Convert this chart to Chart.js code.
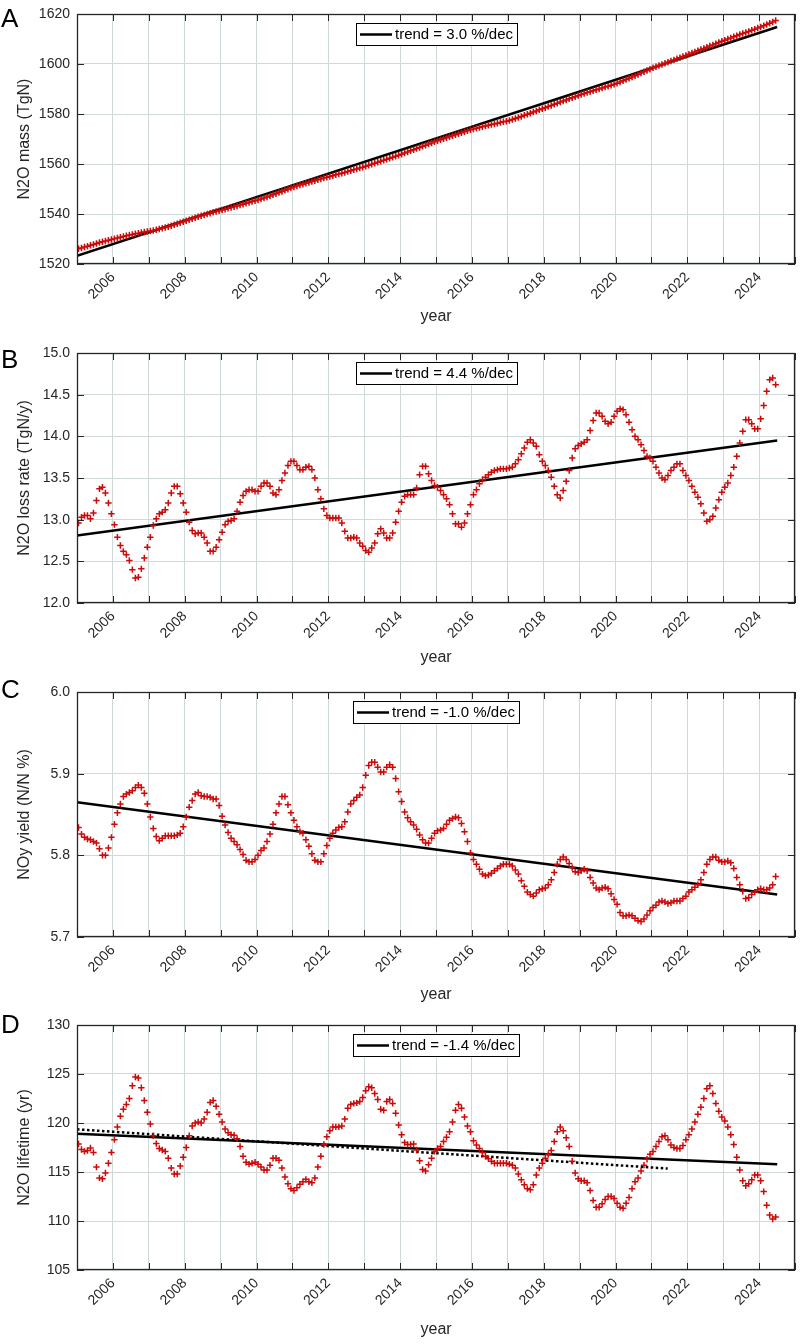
<!DOCTYPE html>
<html>
<head>
<meta charset="utf-8">
<script src="https://cdn.jsdelivr.net/npm/chart.js@4.4.1/dist/chart.umd.min.js"></script>
<style>
  html, body { margin: 0; padding: 0; background: #fff; }
  body { width: 812px; height: 1344px; position: relative; overflow: hidden; }
  .panel { position: absolute; left: 0; width: 812px; }
</style>
</head>
<body>
<div class="panel" style="top:0px;height:326px"><canvas id="cA"></canvas></div>
<div class="panel" style="top:339px;height:328px"><canvas id="cB"></canvas></div>
<div class="panel" style="top:678px;height:326px"><canvas id="cC"></canvas></div>
<div class="panel" style="top:1011px;height:328px"><canvas id="cD"></canvas></div>
<script>
// monthly values, Jan 2005 .. Jun 2024 (one row per year)
const n2oMass = [
  1526.1, 1526.4, 1526.8, 1527.1, 1527.5, 1527.8, 1528.2, 1528.6, 1528.9, 1529.2, 1529.5, 1529.8,
  1530.1, 1530.4, 1530.7, 1531.0, 1531.3, 1531.6, 1531.8, 1532.1, 1532.3, 1532.6, 1532.8, 1533.0,
  1533.2, 1533.4, 1533.7, 1534.0, 1534.3, 1534.6, 1534.9, 1535.3, 1535.7, 1536.1, 1536.5, 1536.9,
  1537.3, 1537.7, 1538.1, 1538.5, 1538.9, 1539.3, 1539.6, 1540.0, 1540.3, 1540.7, 1541.0, 1541.3,
  1541.6, 1541.9, 1542.3, 1542.6, 1542.9, 1543.2, 1543.6, 1543.9, 1544.3, 1544.6, 1545.0, 1545.3,
  1545.6, 1546.0, 1546.4, 1546.8, 1547.2, 1547.7, 1548.1, 1548.6, 1549.0, 1549.5, 1549.9, 1550.4,
  1550.8, 1551.2, 1551.6, 1551.9, 1552.3, 1552.6, 1553.0, 1553.3, 1553.7, 1554.0, 1554.4, 1554.7,
  1555.0, 1555.3, 1555.7, 1556.0, 1556.3, 1556.6, 1557.0, 1557.3, 1557.7, 1558.0, 1558.4, 1558.7,
  1559.1, 1559.5, 1559.9, 1560.3, 1560.7, 1561.1, 1561.5, 1561.9, 1562.3, 1562.7, 1563.1, 1563.5,
  1563.9, 1564.4, 1564.8, 1565.3, 1565.7, 1566.2, 1566.6, 1567.1, 1567.5, 1568.0, 1568.4, 1568.9,
  1569.3, 1569.7, 1570.1, 1570.5, 1570.9, 1571.3, 1571.7, 1572.1, 1572.5, 1572.9, 1573.3, 1573.7,
  1574.0, 1574.3, 1574.6, 1574.9, 1575.2, 1575.5, 1575.8, 1576.0, 1576.3, 1576.6, 1576.9, 1577.1,
  1577.4, 1577.8, 1578.2, 1578.6, 1579.0, 1579.5, 1579.9, 1580.3, 1580.8, 1581.2, 1581.7, 1582.1,
  1582.5, 1583.0, 1583.4, 1583.9, 1584.3, 1584.8, 1585.2, 1585.6, 1586.1, 1586.5, 1586.9, 1587.4,
  1587.8, 1588.2, 1588.6, 1588.9, 1589.3, 1589.7, 1590.0, 1590.4, 1590.8, 1591.1, 1591.5, 1591.9,
  1592.3, 1592.8, 1593.3, 1593.8, 1594.3, 1594.8, 1595.3, 1595.8, 1596.4, 1596.9, 1597.4, 1597.9,
  1598.5, 1598.9, 1599.4, 1599.8, 1600.3, 1600.7, 1601.2, 1601.6, 1602.1, 1602.5, 1603.0, 1603.4,
  1603.9, 1604.4, 1604.8, 1605.3, 1605.8, 1606.2, 1606.7, 1607.2, 1607.6, 1608.1, 1608.6, 1609.1,
  1609.5, 1610.0, 1610.4, 1610.9, 1611.3, 1611.8, 1612.2, 1612.6, 1613.0, 1613.5, 1613.9, 1614.4,
  1614.8, 1615.3, 1615.8, 1616.3, 1616.8, 1617.4
];
const lossRate = [
  12.96, 13.03, 13.05, 13.05, 13.01, 13.08, 13.23, 13.37, 13.39, 13.32, 13.20, 13.07,
  12.94, 12.79, 12.69, 12.62, 12.58, 12.51, 12.40, 12.30, 12.31, 12.41, 12.54, 12.67,
  12.79, 12.93, 13.01, 13.07, 13.09, 13.12, 13.20, 13.32, 13.40, 13.40, 13.31, 13.20,
  13.09, 12.97, 12.87, 12.83, 12.84, 12.84, 12.79, 12.72, 12.62, 12.62, 12.67, 12.76,
  12.85, 12.94, 12.98, 12.99, 13.01, 13.10, 13.21, 13.29, 13.34, 13.36, 13.36, 13.34,
  13.34, 13.40, 13.44, 13.44, 13.40, 13.32, 13.30, 13.36, 13.47, 13.56, 13.65, 13.70,
  13.70, 13.65, 13.60, 13.60, 13.63, 13.64, 13.60, 13.50, 13.36, 13.25, 13.13, 13.05,
  13.02, 13.02, 13.02, 13.02, 12.96, 12.86, 12.78, 12.78, 12.79, 12.78, 12.72, 12.68,
  12.63, 12.61, 12.66, 12.72, 12.83, 12.89, 12.84, 12.78, 12.78, 12.84, 12.97, 13.10,
  13.21, 13.28, 13.30, 13.30, 13.30, 13.38, 13.54, 13.64, 13.64, 13.55, 13.47, 13.41,
  13.39, 13.35, 13.30, 13.25, 13.18, 13.07, 12.95, 12.95, 12.91, 12.96, 13.07, 13.18,
  13.30, 13.36, 13.43, 13.48, 13.51, 13.54, 13.57, 13.59, 13.60, 13.61, 13.61, 13.61,
  13.62, 13.63, 13.67, 13.72, 13.79, 13.86, 13.93, 13.96, 13.92, 13.88, 13.78, 13.70,
  13.65, 13.59, 13.51, 13.40, 13.30, 13.26, 13.35, 13.46, 13.59, 13.74, 13.85, 13.89,
  13.91, 13.93, 13.96, 14.07, 14.19, 14.28, 14.28, 14.24, 14.18, 14.15, 14.17, 14.24,
  14.30, 14.33, 14.32, 14.26, 14.17, 14.08, 14.00, 13.96, 13.90, 13.83, 13.76, 13.74,
  13.70, 13.63, 13.56, 13.50, 13.48, 13.53, 13.59, 13.63, 13.67, 13.67, 13.59, 13.53,
  13.47, 13.40, 13.33, 13.27, 13.19, 13.08, 12.98, 13.00, 13.04, 13.14, 13.24, 13.33,
  13.39, 13.44, 13.53, 13.63, 13.76, 13.92, 14.06, 14.20, 14.20, 14.15, 14.09, 14.09,
  14.21, 14.37, 14.54, 14.68, 14.70, 14.62
];
const noyYield = [
  5.834, 5.826, 5.822, 5.820, 5.819, 5.817, 5.815, 5.808, 5.800, 5.800, 5.809, 5.822,
  5.838, 5.852, 5.863, 5.872, 5.875, 5.877, 5.879, 5.883, 5.886, 5.883, 5.876, 5.863,
  5.847, 5.833, 5.823, 5.818, 5.821, 5.824, 5.824, 5.824, 5.824, 5.825, 5.827, 5.835,
  5.847, 5.859, 5.867, 5.875, 5.877, 5.873, 5.872, 5.872, 5.871, 5.869, 5.869, 5.861,
  5.848, 5.837, 5.828, 5.821, 5.817, 5.813, 5.807, 5.801, 5.794, 5.792, 5.792, 5.795,
  5.800, 5.806, 5.809, 5.817, 5.826, 5.838, 5.852, 5.863, 5.872, 5.872, 5.862, 5.852,
  5.843, 5.835, 5.829, 5.827, 5.819, 5.811, 5.802, 5.794, 5.792, 5.792, 5.802, 5.812,
  5.821, 5.827, 5.831, 5.834, 5.835, 5.841, 5.853, 5.863, 5.867, 5.871, 5.874, 5.883,
  5.898, 5.910, 5.914, 5.914, 5.908, 5.902, 5.902, 5.908, 5.911, 5.908, 5.894, 5.878,
  5.866, 5.853, 5.846, 5.841, 5.837, 5.832, 5.825, 5.819, 5.815, 5.815, 5.821, 5.827,
  5.830, 5.831, 5.833, 5.838, 5.843, 5.845, 5.847, 5.846, 5.839, 5.829, 5.817, 5.803,
  5.795, 5.789, 5.783, 5.777, 5.775, 5.776, 5.778, 5.781, 5.784, 5.787, 5.789, 5.789,
  5.789, 5.787, 5.782, 5.777, 5.769, 5.762, 5.755, 5.752, 5.750, 5.754, 5.758, 5.759,
  5.760, 5.764, 5.770, 5.779, 5.789, 5.795, 5.798, 5.795, 5.790, 5.785, 5.780, 5.779,
  5.781, 5.783, 5.781, 5.773, 5.766, 5.760, 5.758, 5.760, 5.761, 5.759, 5.753, 5.746,
  5.740, 5.730, 5.726, 5.726, 5.727, 5.726, 5.723, 5.720, 5.719, 5.722, 5.727, 5.732,
  5.736, 5.739, 5.743, 5.744, 5.743, 5.741, 5.742, 5.744, 5.744, 5.744, 5.747, 5.750,
  5.755, 5.758, 5.761, 5.764, 5.770, 5.779, 5.789, 5.795, 5.798, 5.798, 5.794, 5.792,
  5.792, 5.793, 5.791, 5.784, 5.773, 5.764, 5.756, 5.747, 5.748, 5.752, 5.755, 5.758,
  5.759, 5.758, 5.758, 5.760, 5.764, 5.774
];
const lifetime = [
  117.85, 117.3, 117.1, 117.2, 117.45, 117.0, 115.5, 114.4, 114.3, 114.9, 115.9, 117.0,
  118.3, 119.6, 120.7, 121.4, 121.9, 122.5, 123.8, 124.7, 124.6, 123.6, 122.3, 121.1,
  119.9, 118.7, 117.9, 117.4, 117.25, 117.1, 116.4, 115.4, 114.8, 114.8, 115.6, 116.5,
  117.5, 118.7, 119.7, 120.0, 120.1, 120.0, 120.4, 121.1, 122.1, 122.3, 121.7, 120.9,
  120.1, 119.4, 119.0, 118.8, 118.75, 118.4, 117.6, 116.6, 116.0, 115.8, 115.9, 116.0,
  115.8, 115.5, 115.2, 115.2, 115.7, 116.4, 116.4, 116.2, 115.4, 114.5, 113.8, 113.3,
  113.1, 113.4, 113.75, 114.0, 114.25, 114.0, 113.9, 114.4, 115.5, 116.6, 117.8, 118.6,
  119.2, 119.6, 119.6, 119.6, 119.7, 120.4, 121.5, 121.9, 122.0, 122.05, 122.2, 122.6,
  123.3, 123.7, 123.6, 123.0, 122.4, 121.4, 121.3, 122.2, 122.4, 122.0, 121.0, 119.8,
  118.8, 118.0, 117.8, 117.8, 117.85, 117.25, 116.15, 115.25, 115.1, 115.75, 116.4, 117.1,
  117.4, 117.6, 118.1, 118.55, 119.1, 120.1, 121.3, 121.9, 121.5, 120.6, 119.7, 119.1,
  118.2, 117.75, 117.4, 117.0, 116.6, 116.35, 116.1, 115.9, 115.9, 115.9, 115.9, 115.9,
  115.8, 115.7, 115.4, 114.8, 114.2, 113.7, 113.3, 113.2, 113.7, 114.7, 115.4, 115.9,
  116.4, 116.8, 117.2, 118.1, 119.1, 119.6, 119.2, 118.5, 117.6, 116.1, 114.9, 114.3,
  114.1, 114.1, 113.9, 113.1, 112.1, 111.4, 111.4, 111.75, 112.2, 112.5, 112.5, 112.3,
  111.8, 111.4, 111.3, 111.8, 112.4, 113.3, 114.0, 114.4, 115.1, 115.7, 116.3, 116.8,
  117.1, 117.6, 118.1, 118.6, 118.7, 118.3, 117.75, 117.5, 117.4, 117.4, 117.7, 118.3,
  118.8, 119.4, 120.1, 120.9, 121.6, 122.5, 123.5, 123.8, 123.0, 122.0, 121.2, 120.6,
  120.2, 119.6, 118.8, 117.8, 116.5, 115.2, 114.1, 113.6, 113.8, 114.2, 114.7, 114.7,
  114.1, 113.0, 111.6, 110.6, 110.2, 110.4
];

// fitted trend lines (end points)
const trendYears = [2005.0, 2024.5];
const trendMass = [1523.3, 1614.8];
const trendLoss = [12.81, 13.95];
const trendYield = [5.865, 5.752];
const trendLife = [118.9, 115.8];
const dottedYears = [2005.0, 2021.45];
const dottedLife = [119.35, 115.35];

const labelYears = [2006, 2008, 2010, 2012, 2014, 2016, 2018, 2020, 2022, 2024];

// month centres along the time axis
const months = [];
for (let i = 0; i < n2oMass.length; i++) months.push(2005 + (i + 0.5) / 12);

const FONT = "'Liberation Sans', Arial, Helvetica, sans-serif";
const AXIS = '#262626';
const GRID = '#cfd9d9';
const RED = '#cc0a0a';

const pts = (xs, ys) => ys.map((v, i) => ({ x: xs[i], y: v }));

// box, inward ticks, panel letter and in-plot legend
const decor = {
  id: 'decor',
  afterDraw(chart, args, o) {
    const { ctx, chartArea: a, scales: { x, y } } = chart;
    ctx.save();
    ctx.strokeStyle = AXIS;
    ctx.lineWidth = 1;
    ctx.beginPath();
    x.ticks.forEach(t => {
      const px = Math.round(x.getPixelForValue(t.value)) + 0.5;
      ctx.moveTo(px, a.bottom); ctx.lineTo(px, a.bottom - 7);
      ctx.moveTo(px, a.top); ctx.lineTo(px, a.top + 7);
    });
    y.ticks.forEach(t => {
      const py = Math.round(y.getPixelForValue(t.value)) + 0.5;
      ctx.moveTo(a.left, py); ctx.lineTo(a.left + 7, py);
      ctx.moveTo(a.right, py); ctx.lineTo(a.right - 7, py);
    });
    ctx.stroke();
    ctx.lineWidth = 1.3;
    ctx.strokeRect(Math.round(a.left) + 0.5, Math.round(a.top) + 0.5,
      Math.round(a.width) - 1, Math.round(a.height) - 1);

    // legend
    ctx.font = '15px ' + FONT;
    const tw = ctx.measureText(o.legend).width;
    const w = Math.round(4 + 32 + 3 + tw + 4), h = 22;
    const lx = Math.round((a.left + a.right) / 2 - w / 2), ly = Math.round(a.top + 9);
    ctx.fillStyle = '#fff';
    ctx.fillRect(lx, ly, w, h);
    ctx.strokeStyle = '#000';
    ctx.lineWidth = 1;
    ctx.strokeRect(lx + 0.5, ly + 0.5, w, h);
    ctx.lineWidth = 2.5;
    ctx.beginPath();
    ctx.moveTo(lx + 4, ly + h / 2 + 0.5);
    ctx.lineTo(lx + 36, ly + h / 2 + 0.5);
    ctx.stroke();
    ctx.fillStyle = '#000';
    ctx.textBaseline = 'middle';
    ctx.textAlign = 'left';
    ctx.fillText(o.legend, lx + 39, ly + h / 2 + 1);

    // panel letter
    ctx.font = '26px ' + FONT;
    ctx.textBaseline = 'alphabetic';
    ctx.fillText(o.letter, 1, o.letterBase);
    ctx.restore();
  }
};

function makePanel(id, p) {
  const datasets = [
    { data: pts(months, p.values), showLine: false, pointStyle: 'cross',
      pointRadius: 3.2, pointBorderWidth: 1.5, borderColor: RED, backgroundColor: RED },
    { data: pts(trendYears, p.trend), showLine: true, borderColor: '#000',
      borderWidth: 2.5, pointRadius: 0 }
  ];
  if (p.dotted) {
    datasets.push({ data: pts(dottedYears, p.dotted), showLine: true, borderColor: '#000',
      borderWidth: 2.5, borderDash: [2.5, 2.5], pointRadius: 0 });
  }
  return new Chart(document.getElementById(id), {
    type: 'scatter',
    data: { datasets },
    options: {
      responsive: true,
      maintainAspectRatio: false,
      animation: false,
      layout: { padding: { top: 0, right: 16, left: 0, bottom: 0 } },
      plugins: {
        legend: { display: false },
        tooltip: { enabled: false },
        decor: { letter: p.letter, letterBase: p.letterBase, legend: p.legend }
      },
      scales: {
        x: {
          type: 'linear', min: 2005, max: 2025,
          grid: { color: GRID, drawTicks: false },
          border: { display: false },
          ticks: {
            stepSize: 1, autoSkip: false, minRotation: 45, maxRotation: 45, padding: 5,
            color: AXIS, font: { family: FONT, size: 14 },
            callback: v => labelYears.includes(v) ? String(v) : ''
          },
          title: { display: true, text: 'year', color: AXIS, padding: 0,
            font: { family: FONT, size: 16 } },
          afterFit: s => { s.height = p.xh; }
        },
        y: {
          min: p.min, max: p.max,
          grid: { color: GRID, drawTicks: false },
          border: { display: false },
          ticks: {
            stepSize: p.step, padding: 7, color: AXIS,
            font: { family: FONT, size: 14, lineHeight: 1 },
            callback: v => v.toFixed(p.dec)
          },
          title: { display: true, text: p.title, color: AXIS, padding: { top: 15, bottom: 0 },
            font: { family: FONT, size: 16 } },
          afterFit: s => { s.width = 77; }
        }
      }
    },
    plugins: [decor]
  });
}

makePanel('cA', { values: n2oMass, trend: trendMass, min: 1520, max: 1620, step: 20, dec: 0,
  title: 'N2O mass (TgN)', letter: 'A', letterBase: 27, legend: 'trend = 3.0 %/dec', xh: 62 });
makePanel('cB', { values: lossRate, trend: trendLoss, min: 12, max: 15, step: 0.5, dec: 1,
  title: 'N2O loss rate (TgN/y)', letter: 'B', letterBase: 29, legend: 'trend = 4.4 %/dec', xh: 64 });
makePanel('cC', { values: noyYield, trend: trendYield, min: 5.7, max: 6.0, step: 0.1, dec: 1,
  title: 'NOy yield (N/N %)', letter: 'C', letterBase: 20, legend: 'trend = -1.0 %/dec', xh: 67 });
makePanel('cD', { values: lifetime, trend: trendLife, dotted: dottedLife, min: 105, max: 130, step: 5, dec: 0,
  title: 'N2O lifetime (yr)', letter: 'D', letterBase: 22, legend: 'trend = -1.4 %/dec', xh: 69 });
</script>
</body>
</html>
